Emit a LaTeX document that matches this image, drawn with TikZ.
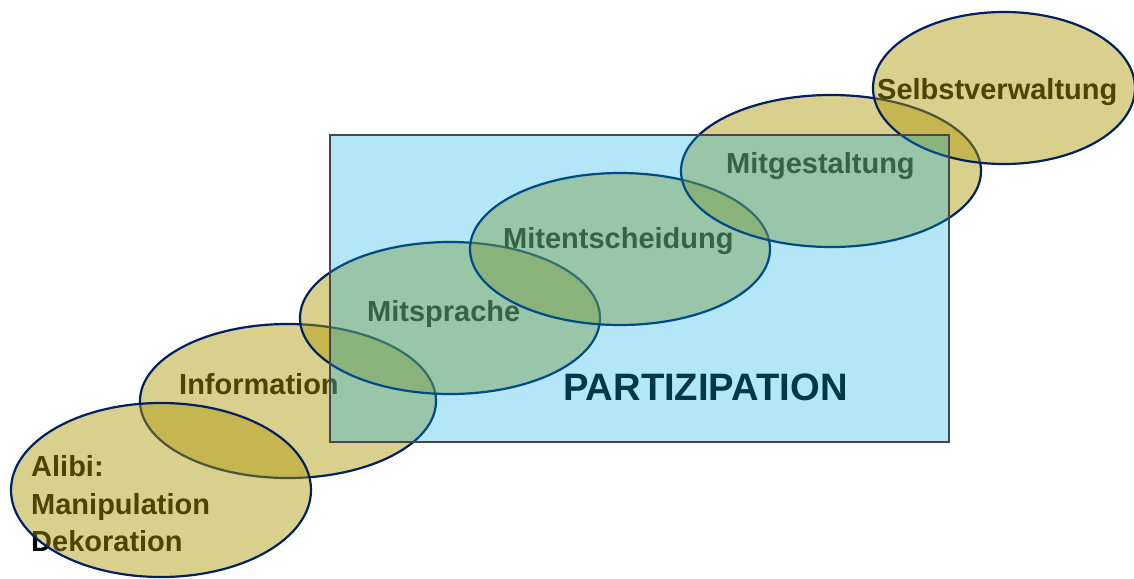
\documentclass[tikz,border=0pt]{standalone}
\usepackage{fontspec}
\setmainfont{Liberation Sans}
\definecolor{elfill}{RGB}{173,151,4}
\definecolor{elline}{RGB}{0,32,96}
\definecolor{rectfill}{RGB}{2,172,228}
\definecolor{rectline}{RGB}{70,70,70}
\definecolor{parttext}{RGB}{0,55,75}
\tikzset{
  lbl/.style={anchor=base west, inner sep=0pt, text=black, font=\fontsize{29}{35}\selectfont\bfseries},
  stage/.style={draw=elline, line width=2.2pt, fill=elfill, fill opacity=0.45},
  partbox/.style={draw=rectline, line width=2.2pt, fill=rectfill, fill opacity=0.3},
  parttitle/.style={anchor=base west, inner sep=0pt, text=parttext, font=\fontsize{38.2}{45}\selectfont\bfseries}
}
\begin{document}
\begin{tikzpicture}[x=1pt,y=-1pt]
\useasboundingbox (0,0) rectangle (1134,578);
% Information
\node[lbl] (tinfo) at (179,394) {Information};
\path[stage] (288,401) ellipse [x radius=148pt, y radius=77pt];
% Alibi
\node[lbl] (talibi1) at (31,476) {Alibi:};
\node[lbl] (talibi2) at (31,514) {Manipulation};
\node[lbl] (talibi3) at (31,551) {Dekoration};
\path[stage] (161,490) ellipse [x radius=150pt, y radius=87pt];
% Mitsprache
\node[lbl] (tspr) at (367,321) {Mitsprache};
\path[stage] (450,318) ellipse [x radius=150pt, y radius=76pt];
% Mitentscheidung
\node[lbl] (tent) at (503,248) {Mitentscheidung};
\path[stage] (620,249) ellipse [x radius=150pt, y radius=76pt];
% Mitgestaltung
\node[lbl] (tges) at (726,173) {Mitgestaltung};
\path[stage] (831,171) ellipse [x radius=150pt, y radius=76pt];
% Selbstverwaltung
\node[lbl] (tselbst) at (877,99) {Selbstverwaltung};
\path[stage] (1004,88) ellipse [x radius=131pt, y radius=76pt];
% Partizipation box
\path[partbox] (330,135) rectangle (949,442);
\node[parttitle] (tpart) at (563,400) {PARTIZIPATION};
\end{tikzpicture}
\end{document}
